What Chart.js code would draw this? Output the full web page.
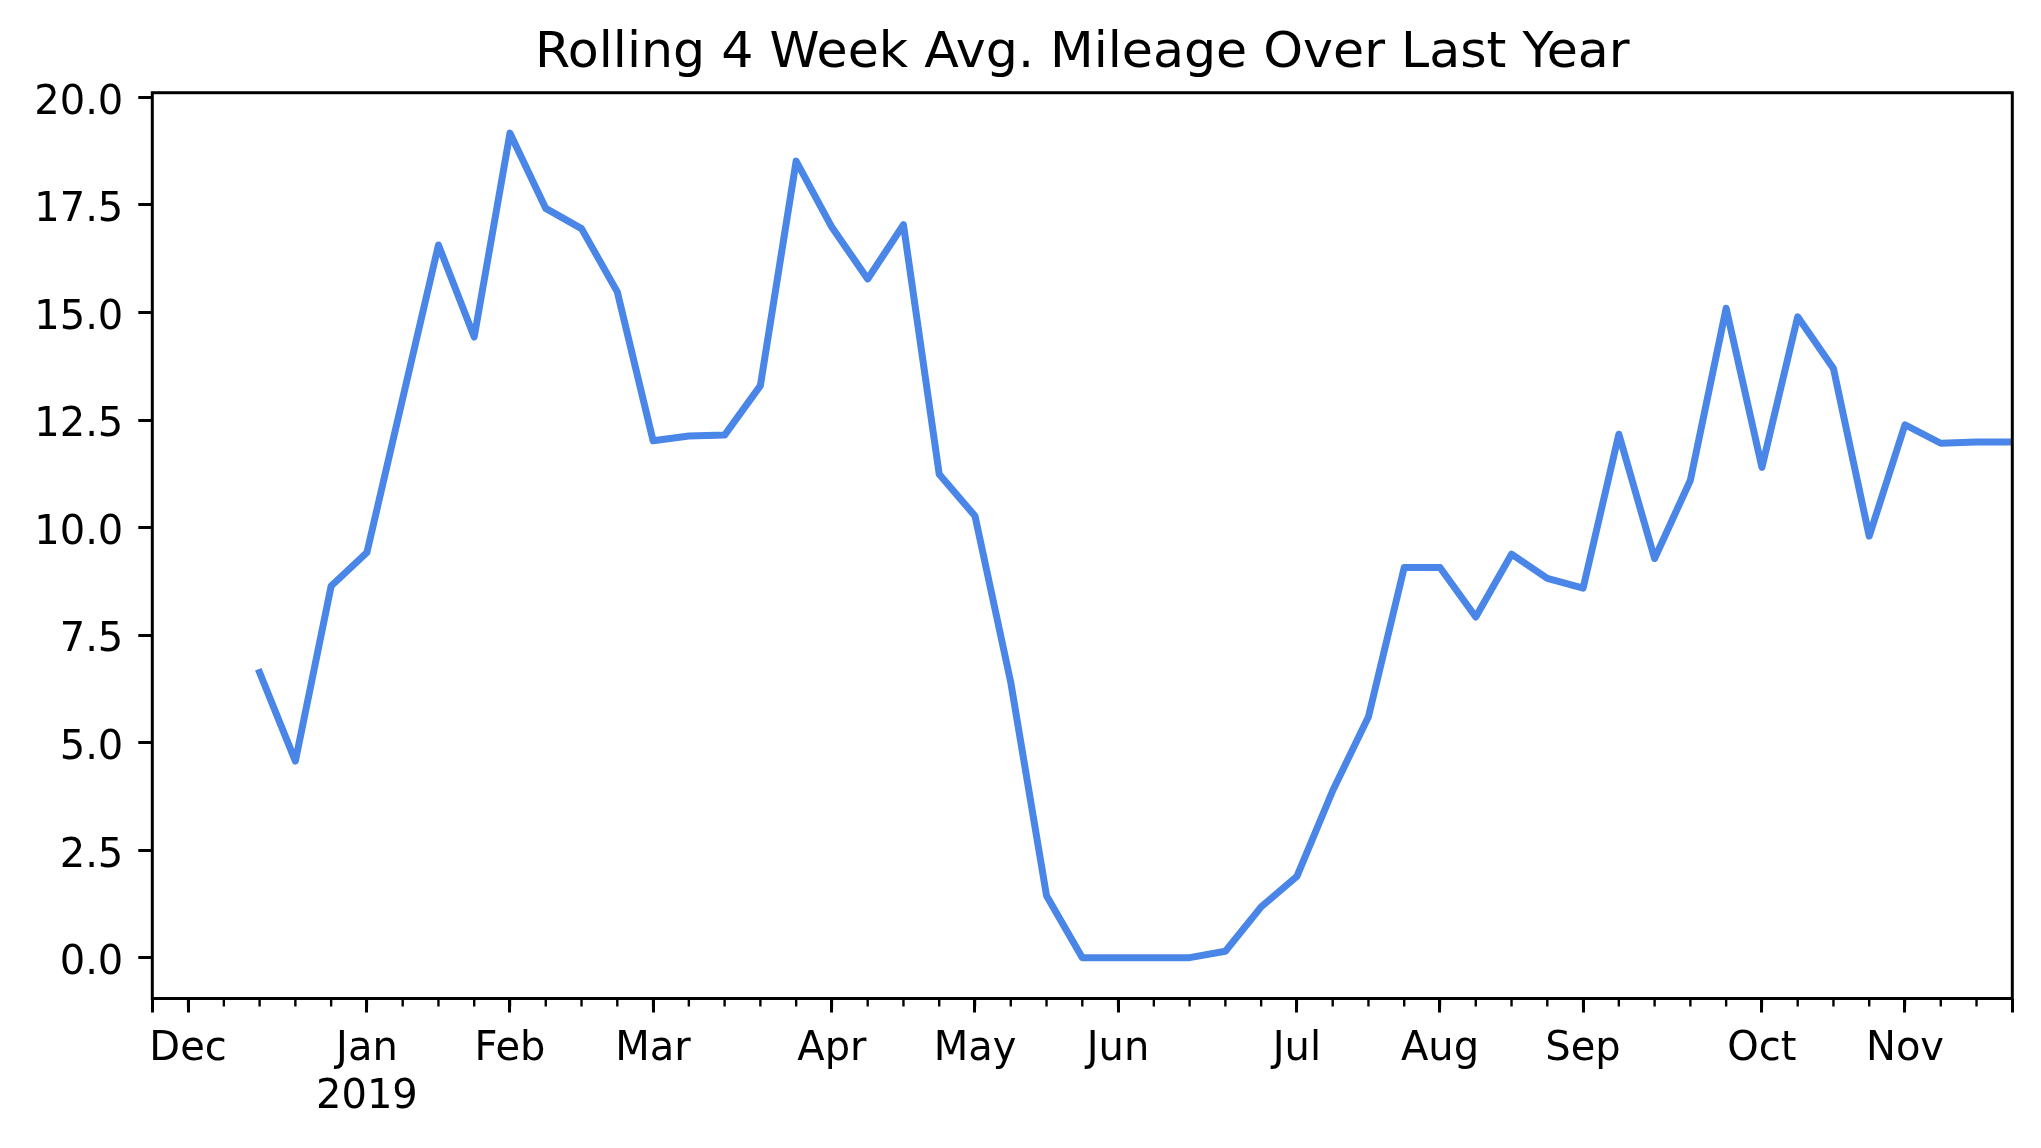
<!DOCTYPE html>
<html>
<head>
<meta charset="utf-8">
<script src="https://cdn.jsdelivr.net/npm/chart.js@4"></script>
<style>
  body { margin: 0; background: #fff; }
  #wrap { width: 2041px; height: 1148px; }
</style>
</head>
<body>
<div id="wrap"><canvas id="chart" width="2041" height="1148"></canvas></div>
<script>
// weekly periods (week start, Monday)
const weeks = [
  '2018-11-19', '2018-11-26', '2018-12-03', '2018-12-10', '2018-12-17', '2018-12-24',
  '2018-12-31', '2019-01-07', '2019-01-14', '2019-01-21', '2019-01-28', '2019-02-04',
  '2019-02-11', '2019-02-18', '2019-02-25', '2019-03-04', '2019-03-11', '2019-03-18',
  '2019-03-25', '2019-04-01', '2019-04-08', '2019-04-15', '2019-04-22', '2019-04-29',
  '2019-05-06', '2019-05-13', '2019-05-20', '2019-05-27', '2019-06-03', '2019-06-10',
  '2019-06-17', '2019-06-24', '2019-07-01', '2019-07-08', '2019-07-15', '2019-07-22',
  '2019-07-29', '2019-08-05', '2019-08-12', '2019-08-19', '2019-08-26', '2019-09-02',
  '2019-09-09', '2019-09-16', '2019-09-23', '2019-09-30', '2019-10-07', '2019-10-14',
  '2019-10-21', '2019-10-28', '2019-11-04', '2019-11-11', '2019-11-18'
];

// rolling 4 week average (first 3 weeks have no full window)
const mileage = [
  null, null, null, 6.63, 4.57, 8.64, 9.42, 13.0, 16.57, 14.43, 19.17, 17.42,
  16.95, 15.48, 12.02, 12.13, 12.15, 13.30, 18.52, 16.98, 15.78, 17.04, 11.24, 10.27,
  6.40, 1.44, 0, 0, 0, 0, 0.15, 1.18, 1.89, 3.88, 5.60, 9.07,
  9.07, 7.92, 9.38, 8.82, 8.59, 12.17, 9.28, 11.10, 15.10, 11.40, 14.90, 13.70,
  9.80, 12.39, 11.96, 11.99, 11.99
];

// month ticks on the week axis
const majorTickWeeks = [0, 1, 6, 10, 14, 19, 23, 27, 32, 36, 40, 45, 49, 52];
const majorTickLabels = ['', 'Dec', ['Jan', '2019'], 'Feb', 'Mar', 'Apr', 'May', 'Jun', 'Jul', 'Aug', 'Sep', 'Oct', 'Nov', ''];

const yTicks = [0, 2.5, 5, 7.5, 10, 12.5, 15, 17.5, 20];

const FONT = 'DejaVu Sans';

// weekly minor ticks + axes frame
const frame = {
  id: 'frame',
  afterDraw(chart) {
    const { ctx, chartArea: a } = chart;
    const x = chart.scales.x;
    ctx.save();
    ctx.strokeStyle = '#000';
    ctx.lineWidth = 2.4;
    weeks.forEach((w, i) => {
      const px = x.getPixelForValue(i);
      ctx.beginPath();
      ctx.moveTo(px, a.bottom);
      ctx.lineTo(px, a.bottom + 8);
      ctx.stroke();
    });
    ctx.lineWidth = 3;
    ctx.strokeRect(a.left, a.top, a.right - a.left, a.bottom - a.top);
    ctx.restore();
  }
};

new Chart(document.getElementById('chart'), {
  type: 'line',
  data: {
    labels: weeks,
    datasets: [{
      data: mileage,
      borderColor: '#4a86e8',
      borderWidth: 7,
      borderCapStyle: 'square',
      borderJoinStyle: 'round',
      pointRadius: 0,
      tension: 0,
      spanGaps: false,
      clip: 0
    }]
  },
  options: {
    responsive: false,
    animation: false,
    devicePixelRatio: 1,
    layout: { padding: { left: 0, right: 28.7, top: 0, bottom: 0 } },
    plugins: {
      legend: { display: false },
      tooltip: { enabled: false },
      title: {
        display: true,
        fullSize: false,
        text: 'Rolling 4 Week Avg. Mileage Over Last Year',
        color: '#000',
        font: { family: FONT, size: 50.6, weight: 'normal' },
        padding: { top: 23.6, bottom: 8.4 }
      }
    },
    scales: {
      x: {
        type: 'category',
        offset: false,
        border: { display: false },
        grid: { drawOnChartArea: false, tickLength: 14, tickWidth: 3, tickColor: '#000' },
        afterBuildTicks: s => { s.ticks = majorTickWeeks.map(v => ({ value: v })); },
        afterFit: s => { s.height = 149.5; },
        ticks: {
          autoSkip: false,
          maxRotation: 0,
          padding: 13,
          color: '#000',
          font: { family: FONT, size: 40 },
          callback: (v, i) => majorTickLabels[i]
        }
      },
      y: {
        min: -0.95,
        max: 20.11,
        border: { display: false },
        grid: { drawOnChartArea: false, tickLength: 14, tickWidth: 3, tickColor: '#000' },
        afterBuildTicks: s => { s.ticks = yTicks.map(v => ({ value: v })); },
        afterFit: s => { s.width = 152.3; },
        ticks: {
          padding: 15,
          labelOffset: 6,
          color: '#000',
          font: { family: FONT, size: 40 },
          callback: v => v.toFixed(1)
        }
      }
    }
  },
  plugins: [frame]
});
</script>
</body>
</html>
